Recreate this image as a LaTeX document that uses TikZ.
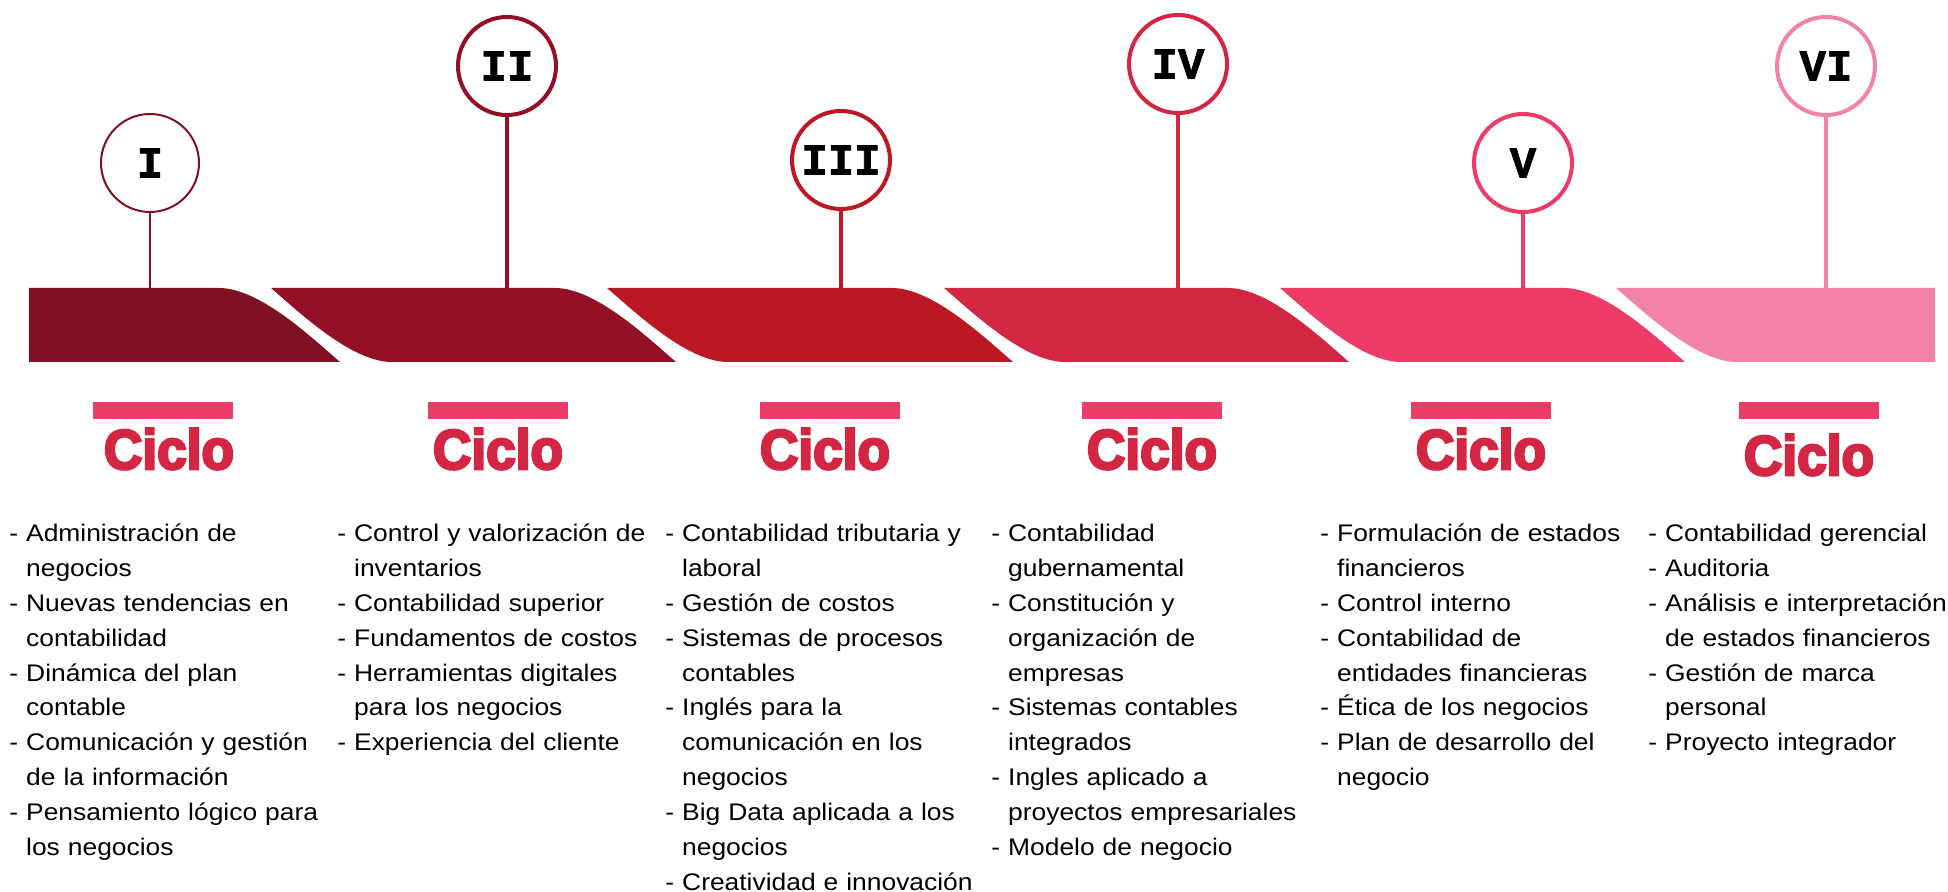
\documentclass[tikz,border=0pt]{standalone}
\usepackage{fontspec}
\setmainfont{Liberation Sans}
\newfontfamily\listfont[FakeStretch=1.1]{Liberation Sans}
\newfontfamily\ciclofont[UprightFont={* Bold},FakeBold=4.5,FakeStretch=0.95]{Liberation Sans}
\newfontfamily\romanfont[UprightFont={* Bold},FakeBold=1.5]{Liberation Mono}
\usepackage{xcolor}
\usetikzlibrary{positioning}
\definecolor{segA}{HTML}{7F1123}
\definecolor{segB}{HTML}{930F23}
\definecolor{segC}{HTML}{BC1823}
\definecolor{segD}{HTML}{D22642}
\definecolor{segE}{HTML}{EE3C69}
\definecolor{segF}{HTML}{F383A6}
\definecolor{barcolor}{HTML}{EE3C69}
\definecolor{ciclocolor}{HTML}{D32643}
\newcommand{\sg}{\hphantom{- }}

\begin{document}
\begin{tikzpicture}[x=0.5pt,y=-0.5pt,
		hito/.style={circle,draw,minimum size=49pt,inner sep=0pt,line width=2pt,font=\romanfont\fontsize{22}{22}\selectfont},
		barra/.style={fill=barcolor,minimum width=70pt,minimum height=8.5pt,inner sep=0pt},
		ciclo/.style={anchor=base,inner sep=0pt,text=ciclocolor,font=\ciclofont\fontsize{28}{28}\selectfont},
		lista/.style={anchor=base west,inner sep=0pt,text width=180pt,align=left,font=\listfont\fontsize{12}{17.4}\selectfont}]
				\useasboundingbox (0,0) rectangle (1948,892);
				% draw band
				\fill[segA] (29,288) -- (219,288) .. controls (259,288) and (310,336) .. (340,362) -- (29,362) -- cycle;
				\fill[segB] (271,288) -- (555,288) .. controls (595,288) and (646,336) .. (676,362) -- (392,362) .. controls (352,362) and (301,314) .. (271,288) -- cycle;
				\fill[segC] (607,288) -- (892,288) .. controls (932,288) and (983,336) .. (1013,362) -- (728,362) .. controls (688,362) and (637,314) .. (607,288) -- cycle;
				\fill[segD] (944,288) -- (1228,288) .. controls (1268,288) and (1319,336) .. (1349,362) -- (1065,362) .. controls (1025,362) and (974,314) .. (944,288) -- cycle;
				\fill[segE] (1280,288) -- (1564,288) .. controls (1604,288) and (1655,336) .. (1685,362) -- (1401,362) .. controls (1361,362) and (1310,314) .. (1280,288) -- cycle;
				\fill[segF] (1616,288) -- (1935,288) -- (1935,362) -- (1737,362) .. controls (1697,362) and (1646,314) .. (1616,288) -- cycle;
				
				% add circles
				\node[hito,draw=segA,line width=1pt] (c1) at (150,163) {I};
				\node[hito,draw=segB] (c2) at (507,66) {II};
				\node[hito,draw=segC] (c3) at (841,160) {III};
				\node[hito,draw=segD] (c4) at (1178,64) {IV};
				\node[hito,draw=segE] (c5) at (1523,163) {V};
				\node[hito,draw=segF] (c6) at (1826,66) {VI};
				
				% stems down to the band
				\coordinate (b1) at (150,288);
				\coordinate (b2) at (507,288);
				\coordinate (b3) at (841,288);
				\coordinate (b4) at (1178,288);
				\coordinate (b5) at (1523,288);
				\coordinate (b6) at (1826,288);
				\draw[segA,line width=1pt] (c1) -- (b1);
				\draw[segB,line width=2pt] (c2) -- (b2);
				\draw[segC,line width=2pt] (c3) -- (b3);
				\draw[segD,line width=2pt] (c4) -- (b4);
				\draw[segE,line width=2pt] (c5) -- (b5);
				\draw[segF,line width=2pt] (c6) -- (b6);
				
				% bars and titles
				\node[barra] (r1) at (163,411) {};
				\node[barra] (r2) at (498,411) {};
				\node[barra] (r3) at (830,411) {};
				\node[barra] (r4) at (1152,411) {};
				\node[barra] (r5) at (1481,411) {};
				\node[barra] (r6) at (1809,411) {};
				\node[ciclo] (t1) at (169,469) {Ciclo};
				\node[ciclo] (t2) at (498,469) {Ciclo};
				\node[ciclo] (t3) at (825,469) {Ciclo};
				\node[ciclo] (t4) at (1152,469) {Ciclo};
				\node[ciclo] (t5) at (1481,469) {Ciclo};
				\node[ciclo] (t6) at (1809,475) {Ciclo};
				
				% course lists
				\node[lista] (l1) at (9,542) {- Administración de\\ \sg negocios\\ - Nuevas tendencias en\\ \sg contabilidad\\ - Dinámica del plan\\ \sg contable\\ - Comunicación y gestión\\ \sg de la información\\ - Pensamiento lógico para\\ \sg los negocios};
				\node[lista] (l2) at (337,542) {- Control y valorización de\\ \sg inventarios\\ - Contabilidad superior\\ - Fundamentos de costos\\ - Herramientas digitales\\ \sg para los negocios\\ - Experiencia del cliente};
				\node[lista] (l3) at (665,542) {- Contabilidad tributaria y\\ \sg laboral\\ - Gestión de costos\\ - Sistemas de procesos\\ \sg contables\\ - Inglés para la\\ \sg comunicación en los\\ \sg negocios\\ - Big Data aplicada a los\\ \sg negocios\\ - Creatividad e innovación};
				\node[lista] (l4) at (991,542) {- Contabilidad\\ \sg gubernamental\\ - Constitución y\\ \sg organización de\\ \sg empresas\\ - Sistemas contables\\ \sg integrados\\ - Ingles aplicado a\\ \sg proyectos empresariales\\ - Modelo de negocio};
				\node[lista] (l5) at (1320,542) {- Formulación de estados\\ \sg financieros\\ - Control interno\\ - Contabilidad de\\ \sg entidades financieras\\ - Ética de los negocios\\ - Plan de desarrollo del\\ \sg negocio};
				\node[lista] (l6) at (1648,542) {- Contabilidad gerencial\\ - Auditoria\\ - Análisis e interpretación\\ \sg de estados financieros\\ - Gestión de marca\\ \sg personal\\ - Proyecto integrador};
			\end{tikzpicture}
\end{document}
